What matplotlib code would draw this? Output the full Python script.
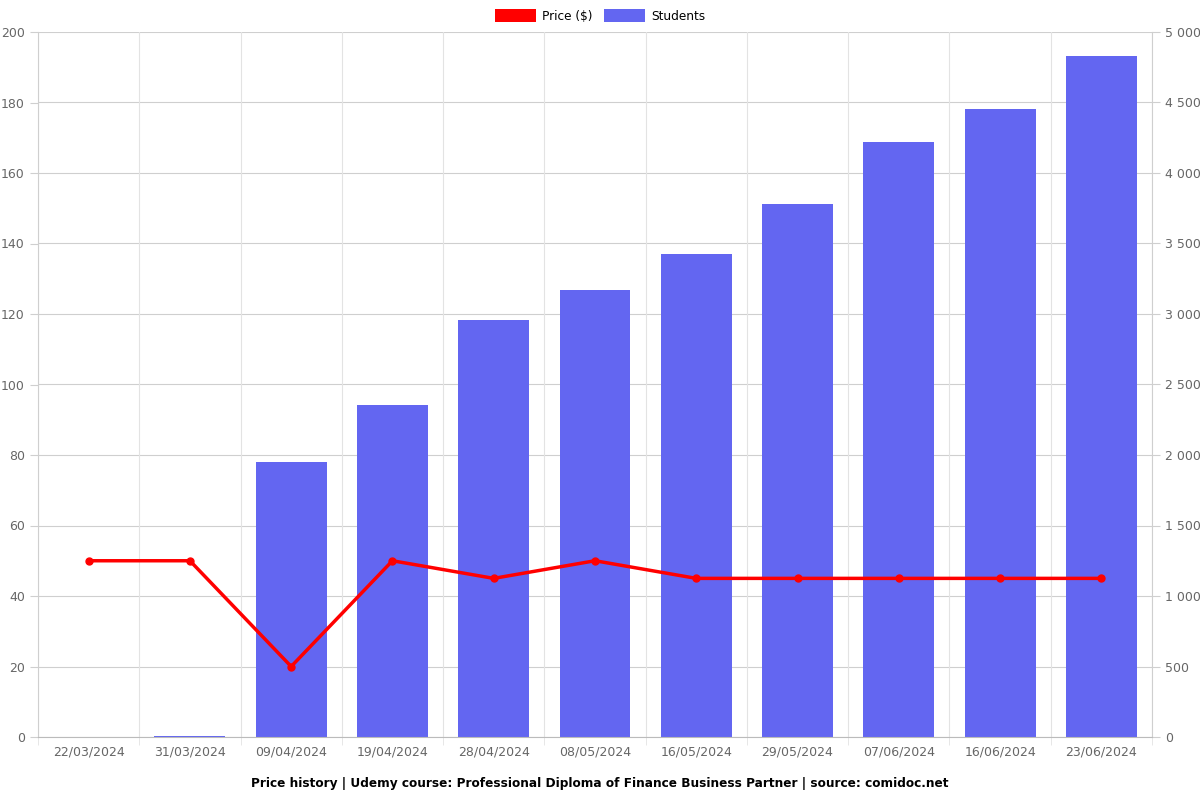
import matplotlib
matplotlib.use("Agg")
from matplotlib import pyplot as plt
from matplotlib.ticker import FuncFormatter, MultipleLocator
from matplotlib.patches import Patch
import numpy as np

plt.rcParams["font.family"] = ["DejaVu Sans"]

dates = ["22/03/2024", "31/03/2024", "09/04/2024", "19/04/2024", "28/04/2024",
         "08/05/2024", "16/05/2024", "29/05/2024", "07/06/2024", "16/06/2024",
         "23/06/2024"]
price = [50, 50, 20, 50, 45, 50, 45, 45, 45, 45, 45]
students = [0, 5, 1950, 2355, 2957, 3170, 3426, 3780, 4220, 4454, 4830]

title = "Price history | Udemy course: Professional Diploma of Finance Business Partner | source: comidoc.net"

fig = plt.figure(figsize=(12, 8), dpi=100)
ax = fig.add_axes([38 / 1200, 63 / 800, 1114 / 1200, 705 / 800])
ax2 = ax.twinx()

x = np.arange(len(dates))
grid_c = "#cfcfcf"
text_c = "#666666"

# bars on the right axis
ax2.bar(x, students, width=0.7, color="#6366f1", zorder=2)
ax2.set_ylim(0, 5000)
ax2.yaxis.set_major_locator(MultipleLocator(500))
ax2.yaxis.set_major_formatter(FuncFormatter(lambda v, p: f"{int(v):,}".replace(",", " ")))

# price line on the left axis, drawn above bars
ax.set_zorder(ax2.get_zorder() + 1)
ax.patch.set_visible(False)
ax.plot(x, price, color="#ff0000", lw=2.5, marker="o", ms=5, zorder=3)
ax.set_ylim(0, 200)
ax.yaxis.set_major_locator(MultipleLocator(20))
ax.set_xlim(-0.5, len(dates) - 0.5)

# grid
for v in range(0, 201, 20):
    ax2.axhline(v * 25, color=grid_c, lw=0.8, zorder=0)
for b in np.arange(-0.5, len(dates), 1):
    ax2.axvline(b, color="#e3e3e3", lw=0.8, zorder=0)

ax.set_xticks(x)
ax.set_xticklabels(dates)
ax.set_xticks(np.arange(-0.5, len(dates), 1), minor=True)
ax.tick_params(axis="x", which="major", length=0, pad=6)
ax.tick_params(axis="x", which="minor", length=6, color="#e3e3e3")
for a in (ax, ax2):
    a.tick_params(axis="y", length=6, color=grid_c, labelcolor=text_c, labelsize=9)
    for s in a.spines.values():
        s.set_visible(False)
ax.tick_params(axis="x", labelcolor=text_c, labelsize=9)
ax.spines["bottom"].set_visible(True)
ax.spines["bottom"].set_color("#bbbbbb")
ax.spines["left"].set_visible(True)
ax.spines["left"].set_color(grid_c)
ax2.spines["right"].set_visible(True)
ax2.spines["right"].set_color(grid_c)

# legend
handles = [Patch(facecolor="#ff0000", label="Price ($)"),
           Patch(facecolor="#6366f1", label="Students")]
fig.legend(handles=handles, loc="center", bbox_to_anchor=(0.5, 1 - 16 / 800), ncol=2,
           frameon=False, fontsize=8.7, handlelength=3.4, handleheight=1.3,
           columnspacing=0.9, handletextpad=0.5)

fig.text(0.5, 1 - 783 / 800, title, ha="center", va="center", fontsize=8.7,
         fontweight="bold")

fig.savefig("out.png")
